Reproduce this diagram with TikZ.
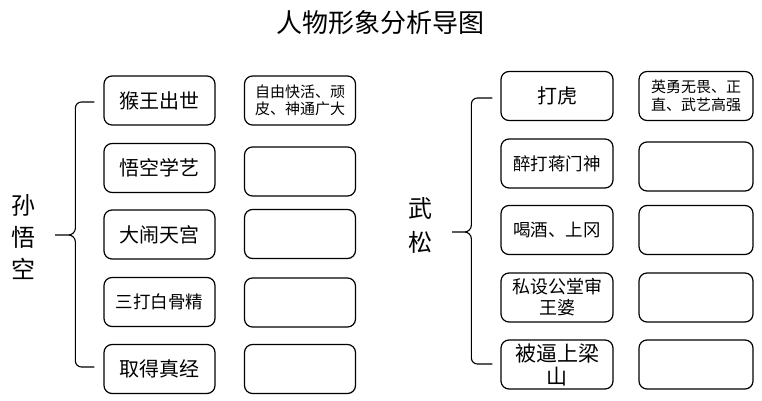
\documentclass[tikz,border=0pt]{standalone}
\usepackage{fontspec}
\setmainfont{Noto Sans CJK SC}
\usetikzlibrary{positioning, calc}

\newcommand{\fsz}[2]{\fontsize{#1}{#2}\selectfont}

\begin{document}
\begin{tikzpicture}[
                  x=1pt, y=-1pt,
                  box/.style={draw, rounded corners=8pt, line width=1.2pt,
                              minimum width=111pt, minimum height=49pt,
                              inner sep=1pt, align=center, font=\fsz{20}{24}},
                  small/.style={font=\fsz{17.5}{21}},
                  note/.style={box, font=\fsz{15}{17.5}},
                  headtxt/.style={align=center, inner sep=0pt},
                  brace/.style={draw, line width=1.1pt},
            ]
            \useasboundingbox (0,0) rectangle (762,401);

            \node[headtxt, font=\fsz{26}{30}] (title) at (380,23) {人物形象分析导图};

            % left group
            \node[headtxt, font=\fsz{24}{32}] (sun) at (23,237) {孙\\悟\\空};
            \node[box] (s1) at (159.5,100.5) {猴王出世};
            \node[box] (s2) at (159.5,168) {悟空学艺};
            \node[box] (s3) at (159.5,234.5) {大闹天宫};
            \node[box, small] (s4) at (159.5,302) {三打白骨精};
            \node[box] (s5) at (159.5,369) {取得真经};
            \node[note] (sn1) at (300,100.5) {自由快活、顽\\皮、神通广大};
            \node[note] (sn2) at (300,171.5) {};
            \node[note] (sn3) at (300,234) {};
            \node[note] (sn4) at (300,302.5) {};
            \node[note] (sn5) at (300,369) {};

            % right group
            \node[headtxt, font=\fsz{24}{34}] (wu) at (420,225) {武\\松};
            \node[box, minimum width=112pt] (w1) at (557,96) {打虎};
            \node[box, minimum width=112pt, small] (w2) at (557,163.5) {醉打蒋门神};
            \node[box, minimum width=112pt, small] (w3) at (557,230) {喝酒、上冈};
            \node[box, minimum width=112pt, font=\fsz{18}{21}] (w4) at (557,297.5) {私设公堂审\\王婆};
            \node[box, minimum width=112pt, font=\fsz{21}{23}] (w5) at (557,364.5) {被逼上梁\\山};
            \node[note, minimum width=114pt] (wn1) at (696,96) {英勇无畏、正\\直、武艺高强};
            \node[note, minimum width=114pt] (wn2) at (696,166.5) {};
            \node[note, minimum width=114pt] (wn3) at (696,230) {};
            \node[note, minimum width=114pt] (wn4) at (696,297.5) {};
            \node[note, minimum width=114pt] (wn5) at (696,364.5) {};

            % braces
            \coordinate (stip) at (55,235);
            \coordinate (stop) at ([xshift=-9pt, yshift=-1.5pt]s1.west);
            \coordinate (sbot) at ([xshift=-9pt, yshift=2pt]s5.west);
            \coordinate (wtip) at (452,232);
            \coordinate (wtop) at ([xshift=-8pt, yshift=-2pt]w1.west);
            \coordinate (wbot) at ([xshift=-8pt, yshift=0.5pt]w5.west);

            \foreach \ta/\tb/\tc/\dd in {stop/stip/sbot/19pt, wtop/wtip/wbot/21pt}
            {
            \draw[brace] let \p1=(\ta), \p2=(\tb), \p3=(\tc), \n1={\x1-\dd} in
                  (\p1) -- (\n1+6pt,\y1) to[out=180,in=90] (\n1,\y1-6pt)
                  -- (\n1,\y2+7pt) to[out=-90,in=0] (\n1-7pt,\y2) -- (\p2)
                  (\n1-7pt,\y2) to[out=0,in=90] (\n1,\y2-7pt)
                  -- (\n1,\y3+6pt) to[out=-90,in=180] (\n1+6pt,\y3) -- (\p3);
            }
      \end{tikzpicture}
\end{document}
